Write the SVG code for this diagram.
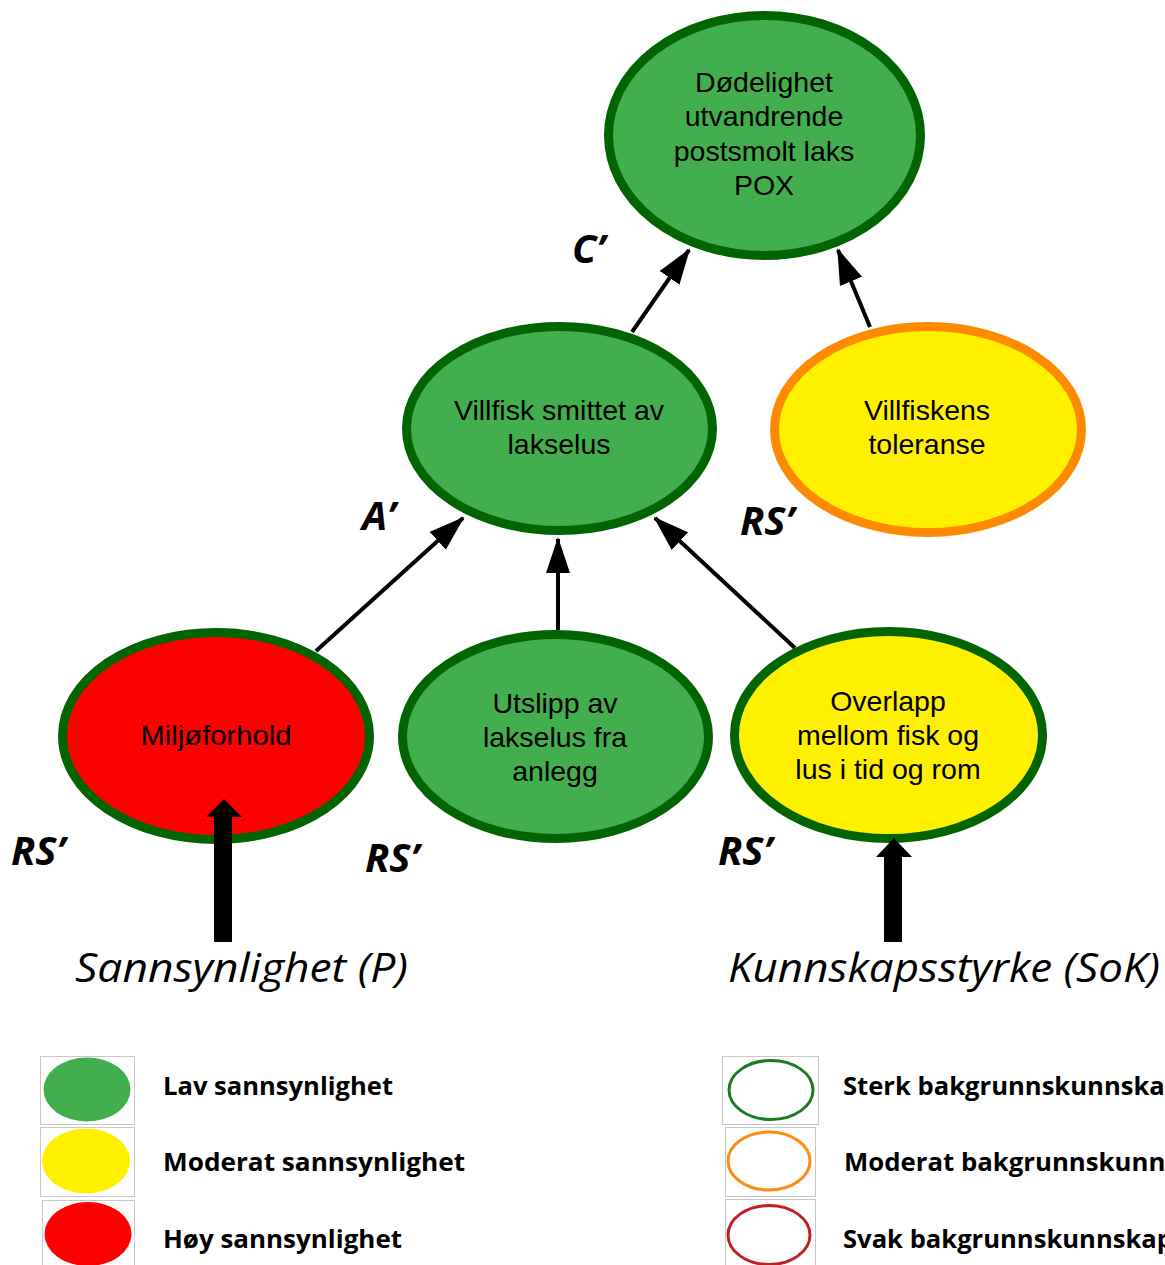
<svg xmlns="http://www.w3.org/2000/svg" width="1165" height="1265" viewBox="0 0 1165 1265">
<style>
.node{stroke-width:9}
.g{fill:#43AE4E}
.y{fill:#FFF000}
.r{fill:#FF0000}
.sg{stroke:#006400}
.so{stroke:#FF8A00}
.t{font-family:"Liberation Sans",Arial,sans-serif;font-size:28.5px;fill:#000;text-anchor:middle}
.lbl{font-family:"Open Sans","Liberation Sans",sans-serif;font-weight:bold;font-style:italic;font-size:40px;fill:#000}
.big{font-family:"Open Sans","Liberation Sans",sans-serif;font-style:italic;font-size:40px;fill:#000}
.leg{font-family:"Open Sans","Liberation Sans",sans-serif;font-weight:bold;font-size:25px;fill:#000}
.box{fill:#fff;stroke:#C8C8C8;stroke-width:1}
.conn line{stroke:#000;stroke-width:4;marker-end:url(#ah)}
</style>
<defs>
<marker id="ah" markerUnits="userSpaceOnUse" markerWidth="36" markerHeight="24" refX="34" refY="12" orient="auto">
<path d="M0,0 L36,12 L0,24 z" fill="#000"/>
</marker>
</defs>
<rect width="1165" height="1265" fill="#fff"/>

<g id="connectors" class="conn">
<line x1="632" y1="332" x2="689" y2="250"/>
<line x1="870" y1="327" x2="838" y2="250"/>
<line x1="316" y1="651" x2="463" y2="518"/>
<line x1="558" y1="630" x2="558" y2="539"/>
<line x1="795" y1="648" x2="655" y2="518"/>
</g>

<g id="node-pox">
<ellipse class="node g sg" cx="764.5" cy="135.5" rx="156" ry="120"/>
<text class="t" x="764" y="92">Dødelighet</text>
<text class="t" x="764" y="126">utvandrende</text>
<text class="t" x="764" y="161">postsmolt laks</text>
<text class="t" x="764" y="195">POX</text>
</g>

<g id="node-villfisk">
<ellipse class="node g sg" cx="559.5" cy="428.5" rx="153" ry="102"/>
<text class="t" x="559" y="420">Villfisk smittet av</text>
<text class="t" x="559" y="454">lakselus</text>
</g>

<g id="node-toleranse">
<ellipse class="node y so" cx="928" cy="429.5" rx="153.5" ry="103"/>
<text class="t" x="927" y="420">Villfiskens</text>
<text class="t" x="927" y="454">toleranse</text>
</g>

<g id="node-miljo">
<ellipse class="node r sg" cx="216" cy="736" rx="153.5" ry="103.5"/>
<text class="t" x="216" y="745" font-family="'Open Sans',sans-serif" textLength="151" lengthAdjust="spacingAndGlyphs">Miljøforhold</text>
</g>

<g id="node-utslipp">
<ellipse class="node g sg" cx="555.5" cy="736.5" rx="153" ry="102"/>
<text class="t" x="555" y="713">Utslipp av</text>
<text class="t" x="555" y="747">lakselus fra</text>
<text class="t" x="555" y="781">anlegg</text>
</g>

<g id="node-overlapp">
<ellipse class="node y sg" cx="888.5" cy="735" rx="154" ry="103.5"/>
<text class="t" x="888" y="711">Overlapp</text>
<text class="t" x="888" y="745">mellom fisk og</text>
<text class="t" x="888" y="779">lus i tid og rom</text>
</g>

<g id="labels">
<text class="lbl" x="572" y="263">C’</text>
<text class="lbl" x="362" y="530">A’</text>
<text class="lbl" x="740" y="535">RS’</text>
<text class="lbl" x="11" y="865">RS’</text>
<text class="lbl" x="365" y="872">RS’</text>
<text class="lbl" x="718" y="865">RS’</text>
</g>

<g id="arrow-p">
<polygon points="214,942 232,942 232,817 242,817 224,799 206,817 214,817" fill="#000"/>
<text class="big" x="75" y="982" textLength="333" lengthAdjust="spacingAndGlyphs">Sannsynlighet (P)</text>
</g>
<g id="arrow-sok">
<polygon points="884,942 902,942 902,857 912,857 894,838 876,857 884,857" fill="#000"/>
<text class="big" x="728" y="982" textLength="432" lengthAdjust="spacingAndGlyphs">Kunnskapsstyrke (SoK)</text>
</g>

<g id="legend-left">
<rect class="box" x="40.5" y="1056.5" width="94" height="68"/>
<ellipse cx="87" cy="1089.5" rx="43.5" ry="32" fill="#43AE4E"/>
<rect class="box" x="40.5" y="1127.5" width="94" height="69"/>
<ellipse cx="86" cy="1161" rx="44" ry="32.5" fill="#FFF000"/>
<rect class="box" x="42.5" y="1200.5" width="92" height="66"/>
<ellipse cx="88" cy="1234" rx="43.5" ry="32" fill="#FF0000"/>
<text class="leg" x="163" y="1095" textLength="230" lengthAdjust="spacingAndGlyphs">Lav sannsynlighet</text>
<text class="leg" x="163" y="1171" textLength="302" lengthAdjust="spacingAndGlyphs">Moderat sannsynlighet</text>
<text class="leg" x="163" y="1248" textLength="239" lengthAdjust="spacingAndGlyphs">Høy sannsynlighet</text>
</g>

<g id="legend-right">
<rect class="box" x="722.5" y="1056.5" width="96" height="68"/>
<ellipse cx="771" cy="1090" rx="42" ry="29.5" fill="none" stroke="#1E7A1E" stroke-width="3"/>
<rect class="box" x="725.5" y="1127.5" width="90" height="69"/>
<ellipse cx="769" cy="1161" rx="41" ry="29" fill="none" stroke="#FF8C10" stroke-width="3"/>
<rect class="box" x="725.5" y="1199.5" width="90" height="67"/>
<ellipse cx="769" cy="1235" rx="41" ry="29.5" fill="none" stroke="#C0201E" stroke-width="3"/>
<text class="leg" x="843" y="1095" textLength="338" lengthAdjust="spacingAndGlyphs">Sterk bakgrunnskunnskap</text>
<text class="leg" x="844" y="1171" textLength="382" lengthAdjust="spacingAndGlyphs">Moderat bakgrunnskunnskap</text>
<text class="leg" x="843" y="1248" textLength="330" lengthAdjust="spacingAndGlyphs">Svak bakgrunnskunnskap</text>
</g>
</svg>
